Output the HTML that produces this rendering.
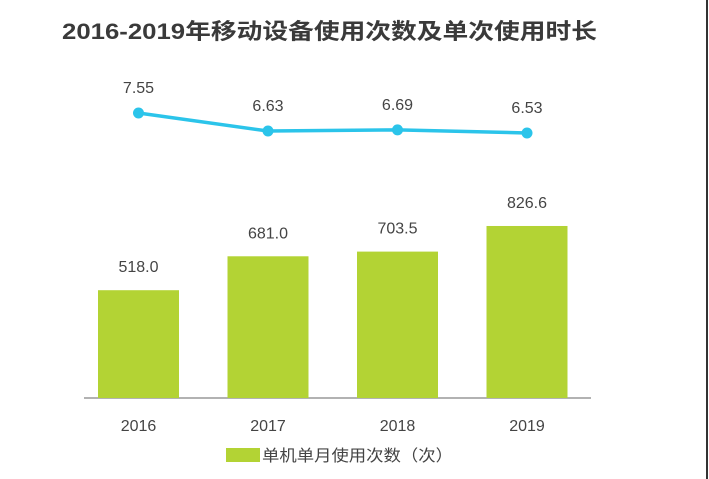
<!DOCTYPE html>
<html><head><meta charset="utf-8"><style>
body{margin:0;background:#fff;}
svg{display:block;font-family:"Liberation Sans","Noto Sans CJK SC",sans-serif;}
</style></head><body>
<svg width="709" height="479">
<rect x="0" y="0" width="709" height="479" fill="#fff"/>
<line x1="707" y1="0" x2="707" y2="479" stroke="#333" stroke-width="2"/>
<text x="62" y="39" font-size="22" font-weight="bold" fill="#3a3a3a" textLength="535" lengthAdjust="spacingAndGlyphs">2016-2019年移动设备使用次数及单次使用时长</text>
<line x1="84" y1="398" x2="591" y2="398" stroke="#999" stroke-width="1.5"/>
<g id="bars"></g><g id="line"></g><g id="labels"></g>
<rect x="226" y="448" width="34" height="14" fill="#b3d334"/>
<text x="262" y="461" font-size="16" fill="#444" textLength="191" lengthAdjust="spacingAndGlyphs">单机单月使用次数（次）</text>
</svg>
<script>
const categories=["2016","2017","2018","2019"];
const barValues=[518.0,681.0,703.5,826.6];
const lineValues=[7.55,6.63,6.69,6.53];
const ns="http://www.w3.org/2000/svg";
const xC=i=>138.5+i*129.5;
const yBar=v=>398-v*0.2081;
const yLine=v=>113+(7.55-v)*19.6;
function mk(t,a,p){const e=document.createElementNS(ns,t);for(const k in a)e.setAttribute(k,a[k]);p.appendChild(e);return e;}
const bars=document.getElementById('bars'),line=document.getElementById('line'),lab=document.getElementById('labels');
categories.forEach((c,i)=>{
 const y=yBar(barValues[i]);
 const r=mk('rect',{x:xC(i)-40.5,y:y,width:81,height:398-y,fill:'#b3d334'},bars);
 
 
 const t=mk('text',{x:xC(i),y:y-18,'font-size':16,fill:'#444','text-anchor':'middle'},lab);t.textContent=barValues[i].toFixed(1);
 
 
 const x=mk('text',{x:xC(i),y:431,'font-size':16,fill:'#444','text-anchor':'middle'},lab);x.textContent=c;
 
 
});
const pts=lineValues.map((v,i)=>xC(i)+','+yLine(v)).join(' ');
const pl=mk('polyline',{points:pts,fill:'none',stroke:'#2bc4ea','stroke-width':3.5},line);


lineValues.forEach((v,i)=>{
 const c=mk('circle',{cx:xC(i),cy:yLine(v),r:5.5,fill:'#2bc4ea'},line);
 
 
 const t=mk('text',{x:xC(i),y:yLine(v)-20,'font-size':16,fill:'#444','text-anchor':'middle'},lab);t.textContent=v.toFixed(2);
 
 
});
</script>
</body></html>
